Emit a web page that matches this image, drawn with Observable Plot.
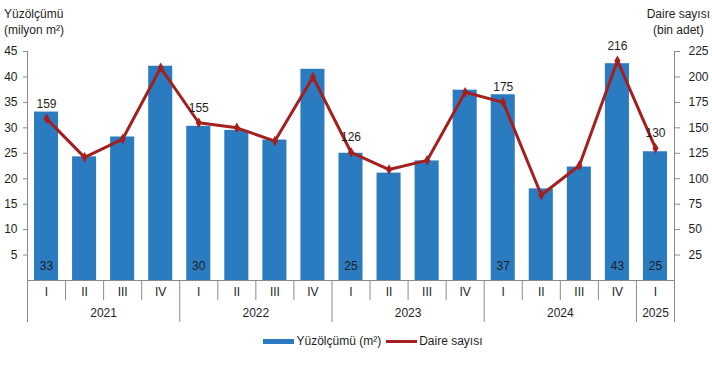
<!DOCTYPE html>
<html>
<head>
<meta charset="utf-8">
<script src="https://cdn.jsdelivr.net/npm/d3@7"></script>
<script src="https://cdn.jsdelivr.net/npm/@observablehq/plot@0.6"></script>
<style>
  html, body { margin: 0; padding: 0; background: #fff; }
  #wrap { position: relative; width: 712px; height: 378px; font-family: "Liberation Sans", Arial, sans-serif; font-size: 12px; color: #1e1e1e; }
  .t { position: absolute; line-height: 16px; white-space: nowrap; }
  #legend { position: absolute; top: 334px; left: 0; width: 712px; display: flex; justify-content: center; align-items: center; gap: 0; }
  .sw { display: inline-block; }
</style>
</head>
<body>
<div id="wrap">
  <div class="t" style="left:4px; top:6px;">Yüzölçümü<br>(milyon m²)</div>
  <div class="t" style="right:2px; top:6px; text-align:center;">Daire sayısı<br>(bin adet)</div>
  <div id="chart"></div>
  <div id="legend">
    <span class="sw" style="width:31px;height:5px;background:#2b7bc1;margin-right:2px;margin-left:34px"></span><span>Yüzölçümü (m²)</span>
    <span class="sw" style="width:31px;height:3px;background:#a3201f;margin-left:5px;margin-right:2px"></span><span>Daire sayısı</span>
  </div>
</div>
<script>
const quarters = ["I","II","III","IV","I","II","III","IV","I","II","III","IV","I","II","III","IV","I"];
const quarterYears = [2021,2021,2021,2021,2022,2022,2022,2022,2023,2023,2023,2023,2024,2024,2024,2024,2025];
const yuzolcumu = [33.1,24.3,28.2,42.1,30.3,29.5,27.6,41.5,25.0,21.1,23.5,37.4,36.5,18.0,22.3,42.6,25.3];
const daireSayisi = [159,121,139,209,155,150,137,200,126,109,118,185,175,84,113,216,130];
const barLabels = ["33",null,null,null,"30",null,null,null,"25",null,null,null,"37",null,null,"43","25"];
const lineLabels = ["159",null,null,null,"155",null,null,null,"126",null,null,null,"175",null,null,"216","130"];
const leftTicks = [5,10,15,20,25,30,35,40,45];
const rightTicks = [25,50,75,100,125,150,175,200,225];

const ratio = 5; // right axis (bin adet) per left axis unit (milyon m²)
const rows = quarters.map((q, i) => ({
  i, q, year: quarterYears[i], area: yuzolcumu[i], units: daireSayisi[i],
  barLabel: barLabels[i], lineLabel: lineLabels[i]
}));

const years = Array.from(new Set(quarterYears));
const yearCenters = years.map(y => d3.mean(rows.filter(r => r.year === y), r => r.i));
const yearCenterName = new Map(yearCenters.map((c, k) => [c, String(years[k])]));
const yearBounds = [-0.5, ...rows.filter((r, k) => k > 0 && r.year !== rows[k - 1].year).map(r => r.i - 0.5), rows.length - 0.5];
const quarterBounds = rows.slice(1).map(r => r.i - 0.5).filter(b => !yearBounds.includes(b));

const axisColor = "#8a8a8a";
const barColor = "#2b7bc1";
const lineColor = "#a3201f";

const chart = Plot.plot({
  width: 712,
  height: 330,
  marginLeft: 27,
  marginRight: 38,
  marginTop: 51,
  marginBottom: 50,
  style: { fontFamily: "Liberation Sans, Arial, sans-serif", fontSize: "12px", color: "#1e1e1e", overflow: "visible", background: "transparent" },
  x: { type: "linear", domain: [-0.5, rows.length - 0.5], axis: null },
  y: { domain: [0, 45], axis: null },
  marks: [
    Plot.rectY(rows, { x1: d => d.i - 0.5, x2: d => d.i + 0.5, y: "area", insetLeft: 7, insetRight: 7, fill: barColor }),
    Plot.line(rows, { x: "i", y: d => d.units / ratio, stroke: lineColor, strokeWidth: 3 }),
    Plot.dot(rows, { x: "i", y: d => d.units / ratio, symbol: "diamond", r: 3.2, fill: lineColor }),
    Plot.text(rows.filter(d => d.lineLabel), { x: "i", y: d => d.units / ratio, text: "lineLabel", dy: -15, fontSize: 12 }),
    Plot.text(rows.filter(d => d.barLabel), { x: "i", y: 0, text: "barLabel", dy: -14, fontSize: 12 }),
    Plot.ruleY([0], { stroke: axisColor }),
    Plot.ruleX([-0.5, rows.length - 0.5], { stroke: axisColor }),
    Plot.axisY({ anchor: "left", ticks: leftTicks, tickSize: 4, tickPadding: 6, label: null, stroke: axisColor }),
    Plot.axisY({ anchor: "right", ticks: rightTicks.map(v => v / ratio), tickFormat: d => String(Math.round(d * ratio)), tickSize: 5, tickPadding: 9, label: null, stroke: axisColor }),
    Plot.axisX({ ticks: quarterBounds, tickSize: 20, tickFormat: () => "", label: null, stroke: axisColor }),
    Plot.axisX({ ticks: yearBounds, tickSize: 42, tickFormat: () => "", label: null, stroke: axisColor }),
    Plot.axisX({ ticks: rows.map(r => r.i), tickSize: 0, tickPadding: 7, tickFormat: i => quarters[i], label: null }),
    Plot.axisX({ ticks: yearCenters, tickSize: 0, tickPadding: 28, tickFormat: c => yearCenterName.get(c), label: null })
  ]
});
document.getElementById("chart").appendChild(chart);
</script>
</body>
</html>
